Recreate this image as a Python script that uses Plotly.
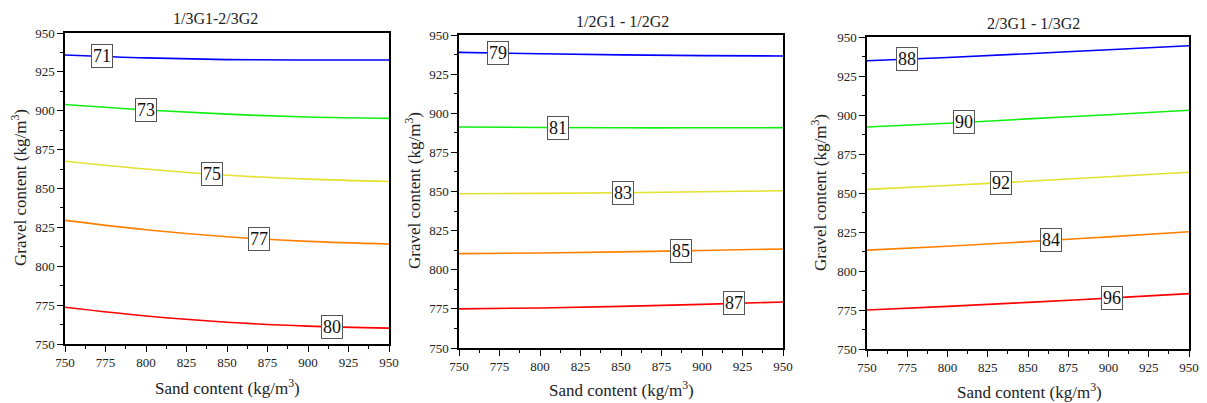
import numpy as np
import plotly.graph_objects as go

# ---------------- data ----------------
sand = [750, 800, 850, 900, 950]

titles = ["1/3G1-2/3G2", "1/2G1 - 1/2G2", "2/3G1 - 1/3G2"]

p1_levels = ["71", "73", "75", "77", "80"]
p1_71 = [935.9, 934.0, 932.9, 932.6, 932.6]
p1_73 = [904.0, 900.5, 897.8, 896.0, 895.1]
p1_75 = [867.5, 862.5, 858.5, 856.0, 854.5]
p1_77 = [829.5, 823.5, 819.0, 816.0, 814.3]
p1_80 = [773.6, 768.0, 764.0, 761.5, 760.2]
p1_label_x = [773, 800, 841, 870, 915]

p2_levels = ["79", "81", "83", "85", "87"]
p2_79 = [938.9, 938.0, 937.3, 936.8, 936.6]
p2_81 = [891.2, 890.9, 890.7, 890.7, 890.8]
p2_83 = [848.6, 848.8, 849.2, 849.8, 850.5]
p2_85 = [810.3, 810.7, 811.4, 812.3, 813.3]
p2_87 = [775.0, 775.6, 776.6, 777.9, 779.4]
p2_label_x = [774, 811, 851, 887, 920]

p3_levels = ["88", "90", "92", "84", "96"]
p3_88 = [934.8, 936.9, 939.3, 941.8, 944.4]
p3_90 = [892.3, 894.7, 897.5, 900.2, 903.0]
p3_92 = [852.3, 854.8, 857.5, 860.4, 863.3]
p3_84 = [813.4, 815.9, 818.8, 821.9, 825.2]
p3_96 = [775.0, 777.3, 779.9, 782.6, 785.5]
p3_label_x = [775, 810, 833, 864, 902]

colors = ["#0000FF", "#11EE11", "#E2E22E", "#FF8000", "#FF0000"]

panels = [
    (p1_levels, [p1_71, p1_73, p1_75, p1_77, p1_80], p1_label_x),
    (p2_levels, [p2_79, p2_81, p2_83, p2_85, p2_87], p2_label_x),
    (p3_levels, [p3_88, p3_90, p3_92, p3_84, p3_96], p3_label_x),
]

# ---------------- layout geometry (window pixels) ----------------
OFF = 8                              # page body margin
W, H = 1207 - 2 * OFF, 403 - OFF     # figure size
px_x = [(65, 389), (459, 783), (867, 1189)]
px_y = [(33, 344), (35, 348), (37, 349)]
title_pos = [(215, 18), (622, 22), (1033, 24)]
ytitle_pos = [(19, 188), (413, 191), (819, 193)]
xtitle_pos = [(227, 387), (621, 389), (1029, 391)]

FONT = "Liberation Serif, Times New Roman, serif"

def fx(px):
    return (px - OFF) / W

def fy(py):
    return 1 - (py - OFF) / H

fig = go.Figure()
annotations = []

def paper_ann(px, py, text, size, angle=0):
    return dict(x=fx(px), y=fy(py), xref="paper", yref="paper",
                xanchor="center", yanchor="middle",
                text=text, showarrow=False, textangle=angle,
                font=dict(family=FONT, size=size, color="#222"))

for i, (levels, series, lab_x) in enumerate(panels):
    xa = "x" if i == 0 else f"x{i+1}"
    ya = "y" if i == 0 else f"y{i+1}"
    for lev, vals, col, lx in zip(levels, series, colors, lab_x):
        fig.add_trace(go.Scatter(
            x=sand, y=vals, mode="lines", xaxis=xa, yaxis=ya,
            line=dict(color=col, width=1.6, shape="spline"),
            showlegend=False, hoverinfo="skip"))
        ly = float(np.interp(lx, sand, vals))
        annotations.append(dict(
            x=lx, y=ly, xref=xa, yref=ya, text=lev, showarrow=False,
            xanchor="center", yanchor="middle",
            font=dict(family=FONT, size=18, color="#111"),
            bgcolor="white", bordercolor="#555", borderwidth=1, borderpad=1))

    xd = [fx(px_x[i][0]), fx(px_x[i][1])]
    yd = [fy(px_y[i][1]), fy(px_y[i][0])]
    axis_common = dict(
        showline=True, linecolor="black", linewidth=1.5, mirror=True,
        ticks="outside", ticklen=6, tickwidth=1.2, tickcolor="black",
        minor=dict(ticks="outside", ticklen=3, tickcolor="black", dtick=12.5, tickwidth=1),
        showgrid=False, zeroline=False, automargin=False,
        ticklabeloverflow="allow",
        tickfont=dict(family=FONT, size=13, color="#222"))
    fig.update_layout(**{
        ("xaxis" if i == 0 else f"xaxis{i+1}"): dict(
            domain=xd, range=[750, 950], dtick=25, tick0=750,
            anchor=ya, **axis_common),
        ("yaxis" if i == 0 else f"yaxis{i+1}"): dict(
            domain=yd, range=[750, 950], dtick=25, tick0=750,
            anchor=xa, **axis_common),
    })

    annotations.append(paper_ann(*title_pos[i], titles[i], 16))
    annotations.append(paper_ann(*ytitle_pos[i], "Gravel content (kg/m<sup>3</sup>)", 17, -90))
    annotations.append(paper_ann(*xtitle_pos[i], "Sand content (kg/m<sup>3</sup>)", 17))

fig.update_layout(
    width=W, height=H,
    margin=dict(l=0, r=0, t=0, b=0, pad=0),
    paper_bgcolor="white", plot_bgcolor="white",
    annotations=annotations)

fig.write_html("out.html")
